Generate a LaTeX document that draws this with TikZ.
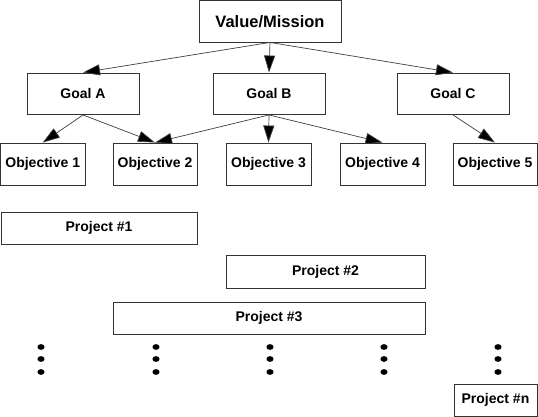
\documentclass[tikz,border=0pt]{standalone}
\usepackage{fontspec}
\setmainfont{Liberation Sans}
\usetikzlibrary{arrows.meta}
\begin{document}
\begin{tikzpicture}[x=1pt,y=-1pt,
  box/.style={draw=black!80,line width=0.9pt,inner sep=0pt,fill=white,
    font=\fontsize{14}{17}\selectfont\bfseries},
  title/.style={box,font=\fontsize{16.5}{19}\selectfont\bfseries},
  arr/.style={draw=black!75,line width=0.7pt,-{Triangle[length=17pt,width=11pt,fill=black]}},
  dotm/.style={fill=black}]
\useasboundingbox (0,0) rectangle (538,417);
\fill[white] (0,0) rectangle (538,417);
% top
\node[title,minimum width=142,minimum height=41.5] (vm) at (270,21.25) {Value/Mission};
% goals
\node[box,minimum width=112,minimum height=41.5] (ga) at (83,93.75) {Goal A};
\node[box,minimum width=112,minimum height=41.5] (gb) at (269,93.75) {Goal B};
\node[box,minimum width=112,minimum height=41.5] (gc) at (453,93.75) {Goal C};
% objectives
\node[box,minimum width=84.5,minimum height=42] (o1) at (42.75,164) {Objective 1};
\node[box,minimum width=84,minimum height=42] (o2) at (155,164) {Objective 2};
\node[box,minimum width=85,minimum height=42] (o3) at (268.5,164) {Objective 3};
\node[box,minimum width=85,minimum height=42] (o4) at (382.5,164) {Objective 4};
\node[box,minimum width=84,minimum height=42] (o5) at (495,164) {Objective 5};
% projects
\node[box,minimum width=196,minimum height=32] (p1) at (99,228) {Project \#1};
\node[box,minimum width=199,minimum height=33] (p2) at (325.5,271.5) {Project \#2};
\node[box,minimum width=312,minimum height=32] (p3) at (269,318) {Project \#3};
\node[box,minimum width=83,minimum height=32.5] (pn) at (495.5,400.25) {Project \#n};
% arrows
\draw[arr] (vm.south) -- (ga.north);
\draw[arr] (vm.south) -- (gb.north);
\draw[arr] (vm.south) -- (gc.north);
\draw[arr] (ga.south) -- (o1.north);
\draw[arr] (ga.south) -- (o2.north);
\draw[arr] (gb.south) -- (o2.north);
\draw[arr] (gb.south) -- (o3.north);
\draw[arr] (gb.south) -- (o4.north);
\draw[arr] (gc.south) -- (o5.north);
% dots
\foreach \dx in {41,156,270,384,498}{
  \foreach \dy in {347,359,372}{
    \fill[dotm] (\dx,\dy) ellipse [x radius=3.6pt, y radius=2.9pt];
  }
}
\end{tikzpicture}
\end{document}
